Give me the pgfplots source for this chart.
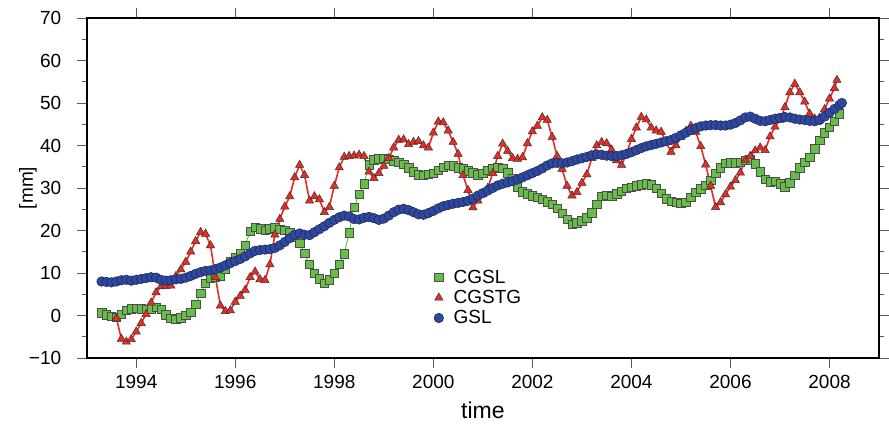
\documentclass[border=0pt]{standalone}
\usepackage{pgfplots}
\pgfplotsset{compat=1.18}
\usepackage{fontspec}
\setmainfont{Liberation Sans}
\definecolor{cgsl}{RGB}{102,190,72}
\definecolor{cgslline}{RGB}{80,175,60}
\definecolor{cgstg}{RGB}{230,45,35}
\definecolor{gsl}{RGB}{46,72,160}
\definecolor{gsledge}{RGB}{28,36,80}
\pgfplotsset{markleg/.style={legend image code/.code={\path (0cm,0cm) (0.62cm,0cm); \draw[##1,only marks] plot coordinates {(0.2cm,0cm)};}}}
\begin{document}
\begin{tikzpicture}
\begin{axis}[
  scale only axis, width=792.3pt, height=340pt,
  xmin=1993, xmax=2009, ymin=-10, ymax=70,
  xtick={1994,1996,...,2008},
  ytick={-10,0,...,70},
  yticklabels={−10,0,10,20,30,40,50,60,70},
  minor y tick num=1,
  xtick pos=both, ytick pos=both,
  xticklabel pos=lower, yticklabel pos=left,
  tick align=outside,
  major tick length=10pt, minor tick length=5pt,
  every tick/.style={black!65, line width=0.9pt},
  axis line style={black, line width=1.8pt},
  /pgf/number format/assume math mode=true,
  /pgf/number format/1000 sep={},
  tick label style={font=\fontsize{19}{22}\selectfont},
  yticklabel style={xshift=-12pt},
  xticklabel style={yshift=-4pt},
  xlabel={time}, ylabel={[mm]},
  xlabel style={font=\fontsize{23}{26}\selectfont, at={(axis description cs:0.5,-0.153)}, anchor=center},
  ylabel style={font=\fontsize{19}{22}\selectfont, at={(axis description cs:-0.074,0.5)}, anchor=center},
  legend style={at={(axis description cs:0.436,0.265)}, anchor=north west, draw=none, fill=none,
    font=\fontsize{19}{21}\selectfont, row sep=1.5pt, inner sep=0pt},
  legend cell align=left,
]
\addplot[cgslline, line width=0.8pt, mark=square*, mark size=4.2pt,
  mark options={fill=cgsl, draw=black!70, line width=0.5pt, solid}, markleg]
table {
1993.3 0.6
1993.4 0.2
1993.5 -0.2
1993.6 -0.4
1993.7 0.3
1993.8 1.2
1993.9 1.6
1994.0 1.7
1994.1 1.6
1994.2 1.4
1994.3 1.6
1994.4 2.0
1994.5 1.4
1994.6 0.2
1994.7 -0.6
1994.8 -0.9
1994.9 -0.5
1995.0 0.0
1995.1 0.8
1995.2 2.6
1995.3 5.2
1995.4 7.6
1995.5 8.8
1995.6 9.0
1995.7 9.3
1995.8 11.0
1995.9 12.8
1996.0 13.6
1996.1 14.5
1996.2 16.5
1996.3 19.8
1996.4 20.8
1996.5 20.4
1996.6 20.0
1996.7 20.4
1996.8 20.6
1996.9 20.3
1997.0 20.1
1997.1 19.6
1997.2 18.4
1997.3 17.0
1997.4 14.6
1997.5 12.0
1997.6 10.0
1997.7 8.6
1997.8 7.6
1997.9 8.4
1998.0 10.0
1998.1 12.0
1998.2 14.5
1998.3 19.5
1998.4 25.5
1998.5 28.5
1998.6 31.0
1998.7 35.5
1998.8 36.6
1998.9 36.9
1999.0 37.0
1999.1 36.8
1999.2 36.4
1999.3 36.0
1999.4 35.6
1999.5 34.8
1999.6 33.8
1999.7 33.1
1999.8 33.0
1999.9 33.2
2000.0 33.5
2000.1 34.2
2000.2 34.9
2000.3 35.4
2000.4 35.2
2000.5 34.8
2000.6 34.5
2000.7 34.1
2000.8 33.6
2000.9 33.1
2001.0 33.4
2001.1 34.2
2001.2 34.6
2001.3 34.9
2001.4 34.6
2001.5 33.6
2001.6 32.3
2001.7 30.3
2001.8 29.1
2001.9 28.6
2002.0 28.2
2002.1 27.8
2002.2 27.3
2002.3 26.8
2002.4 26.2
2002.5 25.2
2002.6 24.0
2002.7 22.6
2002.8 21.5
2002.9 21.8
2003.0 22.3
2003.1 23.0
2003.2 24.2
2003.3 26.2
2003.4 28.0
2003.5 28.3
2003.6 28.0
2003.7 28.6
2003.8 29.3
2003.9 29.9
2004.0 30.2
2004.1 30.5
2004.2 30.8
2004.3 31.0
2004.4 30.8
2004.5 30.0
2004.6 28.8
2004.7 27.5
2004.8 26.9
2004.9 26.6
2005.0 26.4
2005.1 26.6
2005.2 27.8
2005.3 29.0
2005.4 29.8
2005.5 30.6
2005.6 31.8
2005.7 33.4
2005.8 34.8
2005.9 35.8
2006.0 35.9
2006.1 35.9
2006.2 36.0
2006.3 36.5
2006.4 36.6
2006.5 35.7
2006.6 33.8
2006.7 32.0
2006.8 31.5
2006.9 31.6
2007.0 31.0
2007.1 30.3
2007.2 31.2
2007.3 33.0
2007.4 34.8
2007.5 36.0
2007.6 37.3
2007.7 39.2
2007.8 41.2
2007.9 43.0
2008.0 44.3
2008.1 45.7
2008.2 47.5
};
\addlegendentry{CGSL}
\addplot[cgstg, line width=1.6pt, mark=triangle*, mark size=4.8pt,
  mark options={fill=cgstg, draw=black!80, line width=0.5pt, solid}, markleg]
table {
1993.6 -0.6
1993.7 -5.5
1993.8 -6.2
1993.9 -5.6
1994.0 -3.8
1994.1 -1.8
1994.2 0.3
1994.3 3.0
1994.4 5.4
1994.5 6.8
1994.6 6.9
1994.7 7.0
1994.8 9.2
1994.9 10.8
1995.0 12.6
1995.1 15.0
1995.2 17.5
1995.3 19.6
1995.4 19.2
1995.5 16.5
1995.6 9.0
1995.7 2.3
1995.8 1.0
1995.9 1.2
1996.0 3.2
1996.1 4.6
1996.2 6.0
1996.3 9.0
1996.4 10.3
1996.5 8.5
1996.6 8.3
1996.7 12.0
1996.8 19.0
1996.9 22.7
1997.0 25.6
1997.1 28.0
1997.2 32.5
1997.3 35.4
1997.4 33.0
1997.5 27.0
1997.6 28.0
1997.7 27.3
1997.8 24.3
1997.9 25.5
1998.0 30.5
1998.1 34.8
1998.2 37.3
1998.3 37.5
1998.4 37.6
1998.5 37.8
1998.6 37.5
1998.7 33.8
1998.8 32.3
1998.9 33.5
1999.0 35.2
1999.1 37.0
1999.2 39.5
1999.3 41.3
1999.4 41.4
1999.5 40.3
1999.6 40.8
1999.7 41.0
1999.8 40.0
1999.9 39.5
2000.0 43.0
2000.1 45.6
2000.2 45.4
2000.3 43.5
2000.4 40.8
2000.5 38.0
2000.6 33.0
2000.7 29.5
2000.8 25.4
2000.9 27.0
2001.0 28.5
2001.1 30.0
2001.2 33.5
2001.3 37.5
2001.4 40.4
2001.5 38.7
2001.6 37.0
2001.7 36.8
2001.8 37.2
2001.9 40.5
2002.0 43.3
2002.1 44.6
2002.2 46.6
2002.3 46.0
2002.4 42.0
2002.5 37.5
2002.6 34.5
2002.7 30.5
2002.8 28.2
2002.9 29.0
2003.0 31.2
2003.1 33.2
2003.2 37.0
2003.3 40.0
2003.4 40.8
2003.5 40.5
2003.6 39.0
2003.7 36.5
2003.8 35.4
2003.9 38.0
2004.0 41.5
2004.1 44.2
2004.2 46.7
2004.3 46.1
2004.4 44.2
2004.5 43.5
2004.6 43.2
2004.7 40.8
2004.8 38.5
2004.9 40.0
2005.0 42.0
2005.1 43.4
2005.2 44.6
2005.3 43.2
2005.4 39.8
2005.5 35.5
2005.6 30.5
2005.7 25.5
2005.8 26.6
2005.9 28.5
2006.0 30.3
2006.1 31.8
2006.2 33.6
2006.3 36.6
2006.4 37.5
2006.5 38.8
2006.6 39.5
2006.7 38.9
2006.8 42.1
2006.9 44.4
2007.0 46.0
2007.1 49.0
2007.2 52.5
2007.3 54.5
2007.4 52.5
2007.5 50.3
2007.6 47.5
2007.7 46.3
2007.8 46.5
2007.9 48.5
2008.0 51.0
2008.1 53.5
2008.15 55.4
};
\addlegendentry{CGSTG}
\addplot[gsl, line width=0.8pt, mark=*, mark size=4.8pt,
  mark options={fill=gsl, draw=gsledge, line width=0.5pt, solid}, markleg]
table {
1993.3 8.0
1993.4 7.9
1993.5 7.8
1993.6 8.0
1993.7 8.3
1993.8 8.4
1993.9 8.2
1994.0 8.4
1994.1 8.6
1994.2 8.8
1994.3 9.0
1994.4 8.9
1994.5 8.4
1994.6 8.2
1994.7 8.3
1994.8 8.5
1994.9 8.6
1995.0 8.9
1995.1 9.3
1995.2 9.8
1995.3 10.2
1995.4 10.5
1995.5 10.6
1995.6 10.9
1995.7 11.3
1995.8 11.8
1995.9 12.3
1996.0 12.8
1996.1 13.3
1996.2 13.9
1996.3 14.6
1996.4 15.2
1996.5 15.4
1996.6 15.5
1996.7 15.6
1996.8 15.9
1996.9 16.5
1997.0 17.3
1997.1 18.2
1997.2 19.0
1997.3 19.3
1997.4 19.0
1997.5 18.9
1997.6 19.6
1997.7 20.3
1997.8 21.0
1997.9 21.8
1998.0 22.5
1998.1 23.1
1998.2 23.5
1998.3 23.3
1998.4 22.7
1998.5 22.6
1998.6 23.0
1998.7 23.2
1998.8 22.9
1998.9 22.5
1999.0 22.8
1999.1 23.5
1999.2 24.3
1999.3 24.9
1999.4 25.1
1999.5 24.8
1999.6 24.3
1999.7 23.8
1999.8 23.7
1999.9 24.1
2000.0 24.6
2000.1 25.2
2000.2 25.7
2000.3 26.0
2000.4 26.3
2000.5 26.5
2000.6 26.7
2000.7 27.0
2000.8 27.5
2000.9 28.2
2001.0 28.8
2001.1 29.4
2001.2 30.0
2001.3 30.6
2001.4 31.0
2001.5 31.3
2001.6 31.6
2001.7 32.0
2001.8 32.5
2001.9 33.0
2002.0 33.5
2002.1 34.0
2002.2 34.6
2002.3 35.3
2002.4 35.8
2002.5 35.9
2002.6 35.8
2002.7 36.0
2002.8 36.3
2002.9 36.7
2003.0 37.0
2003.1 37.3
2003.2 37.7
2003.3 37.9
2003.4 37.8
2003.5 37.6
2003.6 37.5
2003.7 37.5
2003.8 37.7
2003.9 38.0
2004.0 38.4
2004.1 38.9
2004.2 39.4
2004.3 39.8
2004.4 40.1
2004.5 40.4
2004.6 40.7
2004.7 41.0
2004.8 41.3
2004.9 41.8
2005.0 42.4
2005.1 43.0
2005.2 43.6
2005.3 44.1
2005.4 44.5
2005.5 44.7
2005.6 44.8
2005.7 44.8
2005.8 44.7
2005.9 44.7
2006.0 44.9
2006.1 45.3
2006.2 45.9
2006.3 46.6
2006.4 46.8
2006.5 46.3
2006.6 45.8
2006.7 45.7
2006.8 46.0
2006.9 46.3
2007.0 46.5
2007.1 46.7
2007.2 46.6
2007.3 46.3
2007.4 46.1
2007.5 46.0
2007.6 45.8
2007.7 45.7
2007.8 46.0
2007.9 46.8
2008.0 47.7
2008.1 48.6
2008.2 49.5
2008.25 50.0
};
\addlegendentry{GSL}
\end{axis}
\pgfresetboundingbox
\path[use as bounding box] ([shift={(-86.7pt,-68pt)}]current axis.south west) rectangle ([shift={(10pt,18pt)}]current axis.north east);
\end{tikzpicture}
\end{document}
